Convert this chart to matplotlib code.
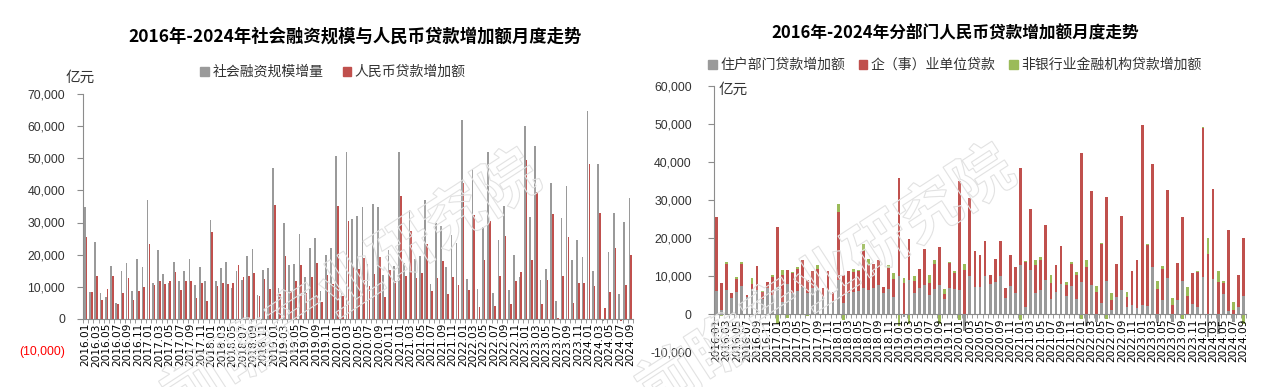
import numpy as np
import matplotlib
matplotlib.use('Agg')
import matplotlib.pyplot as plt
from matplotlib.patches import Patch, PathPatch
from matplotlib.textpath import TextPath
from matplotlib.font_manager import FontProperties
from matplotlib.transforms import Affine2D

plt.rcParams['font.family'] = ['Noto Sans CJK SC', 'DejaVu Sans']

W, H = 1277, 387

# months 2016.01 - 2024.09
months = [f"{y}.{m:02d}" for y in range(2016, 2025) for m in range(1, 13)][:105]

# left chart (亿元)
tsf = [34900, 8300, 24000, 8000, 6800, 16500, 4900, 14800, 17300, 8800, 18500, 16300,
       37000, 11100, 21300, 14000, 11100, 17800, 11900, 15000, 18500, 10500, 16100, 11700,
       30700, 11800, 15800, 17800, 9700, 15000, 12100, 19500, 21700, 7300, 15300, 15800,
       46900, 9700, 29700, 16700, 17200, 26300, 13000, 22000, 25100, 8700, 20000, 22000,
       50600, 8700, 52100, 31000, 32000, 34800, 17000, 35800, 34800, 13800, 21500, 16400,
       52000, 17300, 33900, 18600, 19500, 37000, 10800, 30000, 29000, 16100, 26100, 23500,
       61900, 12300, 46700, 9200, 28500, 52100, 8000, 24600, 35200, 9100, 19900, 13100,
       59900, 31700, 53900, 12100, 15600, 42300, 5500, 31500, 41300, 18400, 24600, 19300,
       64600, 15000, 48300, -700, 20800, 33100, 7800, 30300, 37700]
loans = [25500, 8300, 13400, 5800, 9300, 13400, 4600, 8100, 12800, 5900, 8700, 10000,
         23200, 10500, 11700, 10900, 11900, 14500, 9100, 11700, 11700, 6500, 11300, 5700,
         26900, 10200, 11300, 11000, 11300, 16700, 13000, 13300, 14400, 7100, 12400, 9300,
         35600, 7700, 19500, 8700, 11700, 16700, 8100, 13000, 17500, 5300, 13600, 10800,
         35100, 7200, 30500, 16100, 15500, 18900, 10200, 14100, 19200, 6700, 15300, 11700,
         38200, 13300, 27400, 12800, 14400, 23300, 8600, 12700, 17900, 7700, 13000, 10500,
         42200, 9000, 32200, 3700, 18400, 30500, 4000, 13400, 25800, 4700, 11700, 14500,
         49500, 18200, 39500, 4700, 12200, 32700, 400, 13400, 25500, 5000, 11100, 11100,
         48300, 10100, 33100, 3300, 8300, 22200, -600, 10600, 19900]

# right chart (亿元)
household = [6000, 1000, 6300, 4200, 5800, 7300, 4600, 6500, 6300, 4000, 6800, 5000,
             7200, 3100, 7800, 5500, 6000, 7200, 5500, 6800, 7000, 4600, 6300, 3400,
             9000, 2900, 5500, 5700, 6000, 7000, 6300, 6900, 7700, 5500, 6500, 4600,
             9900, -800, 9100, 5500, 6800, 7700, 5000, 6500, 7700, 3900, 6800, 6500,
             6300, -4300, 9900, 7100, 7200, 9900, 7800, 8400, 9900, 4300, 7500, 5600,
             12900, 1800, 11600, 5600, 6400, 9000, 4000, 5900, 8000, 4800, 7400, 3900,
             8400, -3000, 7700, -2000, 2900, 8600, 1200, 4600, 6400, 1800, 2500, 1700,
             2500, 2200, 12500, -2400, 3800, 9500, -2000, 3800, 8600, -300, 2700, 2000,
             9700, -5900, 9300, -5200, 5300, 900, -2100, 1800, 4900]
corporate = [19400, 7200, 6900, 1300, 3400, 5900, 400, 1400, 6400, 1900, 1700, 4800,
             15800, 7100, 3900, 5200, 5800, 7000, 3600, 4600, 4800, 2200, 5100, 2400,
             17800, 7300, 5800, 5400, 5300, 9600, 6600, 6200, 6600, 1700, 5600, 4600,
             25800, 8300, 10700, 3200, 5000, 9300, 3100, 6700, 9800, 1400, 6500, 4200,
             28700, 11500, 20500, 9500, 8400, 9300, 2400, 6000, 9300, 2500, 8100, 6700,
             25500, 11800, 16100, 7400, 7900, 14300, 4300, 6900, 9800, 2900, 5800, 6500,
             33900, 12400, 24700, 5900, 15400, 22100, 2600, 8600, 19300, 2700, 8900, 12600,
             47200, 16000, 27000, 6500, 8100, 23200, 2300, 9500, 17000, 4900, 8200, 9000,
             39100, 15700, 23600, 8400, 2800, 21200, 1000, 8600, 15100]
nonbank = [0, -600, 400, 0, 500, 600, 0, 1600, 0, 300, 0, 500,
           -2500, 1300, -1000, 400, 600, 0, -600, 0, 1000, 0, 0, 0,
           2000, -1500, 0, 700, 300, 1900, 1500, 0, 0, 0, 700, 1600,
           -3200, 1200, -2500, 1400, 0, 0, 2300, 1000, -2500, 1200, 400, 600,
           -1500, 1700, 0, 0, 0, 0, 0, 0, 0, 0, 0, 100,
           -1500, 300, 0, 1300, 800, 0, 1900, 0, 0, 700, 400, 600,
           -1300, 1800, 0, 1400, 400, -1200, 1700, 0, 0, 1200, 0, 0,
           0, 200, 0, 2300, 800, 0, 2000, 0, -1300, 2200, 0, 300,
           300, 4200, 0, 2800, 700, 0, 2200, 0, -2500]

GREY = '#9a9a9a'
RED = '#c0504d'
GREEN = '#9bbb59'
AXC = '#8c8c8c'
TXT = '#333333'

fig = plt.figure(figsize=(W / 100, H / 100), dpi=100)
x = np.arange(len(months))


def style_axis(ax, ymin, ymax, ylabels, pad):
    ax.set_xlim(-0.5, len(months) - 0.5)
    ax.set_ylim(ymin, ymax)
    for s in ['top', 'right']:
        ax.spines[s].set_visible(False)
    ax.spines['bottom'].set_position(('data', 0))
    ax.spines['bottom'].set_color(AXC)
    ax.spines['left'].set_color(AXC)
    ax.set_yticks(range(ymin, ymax + 1, 10000))
    ax.set_yticklabels(ylabels, fontsize=8.8, color=TXT, family='Liberation Sans')
    ax.tick_params(axis='y', length=4, color=AXC, pad=pad)
    ax.set_xticks(x[::2])
    ax.set_xticklabels(months[::2], rotation=90, fontsize=7.6, family='DejaVu Sans',
                       va='top', ha='center')
    ax.set_xticks(np.arange(-0.5, len(months), 1), minor=True)
    ax.tick_params(axis='x', which='major', length=0, pad=3, colors='black')
    ax.tick_params(axis='x', which='minor', length=3, color=AXC, direction='out')
    ax.set_facecolor('none')


# ---- left chart
ax1 = fig.add_axes([83 / W, 1 - 351 / H, 550 / W, 257 / H])
ax1.bar(x - 0.17, tsf, width=0.32, color=GREY, linewidth=0)
ax1.bar(x + 0.17, loans, width=0.32, color=RED, linewidth=0)
lab1 = [f"{v:,}" if v >= 0 else f"({-v:,})" for v in range(-10000, 70001, 10000)]
style_axis(ax1, -10000, 70000, lab1, 9)
ax1.spines['left'].set_bounds(0, 70000)
ax1.get_yticklabels()[0].set_color('#ff0000')
ax1.yaxis.get_major_ticks()[0].tick1line.set_visible(False)

fig.text(355 / W, 1 - 37 / H, '2016年-2024年社会融资规模与人民币贷款增加额月度走势',
         ha='center', va='center', fontsize=12.5, fontweight='bold')
fig.text(80 / W, 1 - 78 / H, '亿元', ha='center', va='center', fontsize=10.5, color=TXT)
fig.legend(handles=[Patch(color=GREY, label='社会融资规模增量'),
                    Patch(color=RED, label='人民币贷款增加额')],
           loc='center', bbox_to_anchor=(333 / W, 1 - 72 / H), ncol=2, frameon=False,
           fontsize=10, handlelength=0.6, handleheight=0.6, handletextpad=0.25,
           columnspacing=1.4, labelcolor=TXT)

# ---- right chart
ax2 = fig.add_axes([714 / W, 1 - 352.3 / H, 532 / W, 266.8 / H])
pos_base = np.zeros(len(months))
neg_base = np.zeros(len(months))
for vals, col in [(household, GREY), (corporate, RED), (nonbank, GREEN)]:
    v = np.array(vals, dtype=float)
    bottom = np.where(v >= 0, pos_base, neg_base)
    ax2.bar(x, v, bottom=bottom, width=0.55, color=col, linewidth=0)
    pos_base += np.clip(v, 0, None)
    neg_base += np.clip(v, None, 0)
lab2 = [f"{v:,}" for v in range(-10000, 60001, 10000)]
style_axis(ax2, -10000, 60000, lab2, 12)

fig.text(955 / W, 1 - 33 / H, '2016年-2024年分部门人民币贷款增加额月度走势',
         ha='center', va='center', fontsize=12, fontweight='bold')
fig.text(733 / W, 1 - 90 / H, '亿元', ha='center', va='center', fontsize=10.5, color=TXT)
fig.legend(handles=[Patch(color=GREY, label='住户部门贷款增加额'),
                    Patch(color=RED, label='企（事）业单位贷款'),
                    Patch(color=GREEN, label='非银行业金融机构贷款增加额')],
           loc='center', bbox_to_anchor=(955 / W, 1 - 65 / H), ncol=3, frameon=False,
           fontsize=10, handlelength=0.6, handleheight=0.6, handletextpad=0.25,
           columnspacing=1.0, labelcolor=TXT)

# ---- faint watermark
fp = FontProperties(family='Noto Sans CJK SC', weight='bold')
wm = '前瞻产业研究院'
size = 62
tp = TextPath((0, 0), wm, size=size, prop=fp)
ang = 33
for cx, cy in [(505, 180), (980, 175)]:
    local_end = np.array([len(wm) * size - size / 2, size * 0.38])
    r = np.deg2rad(ang)
    rot = np.array([[np.cos(r), -np.sin(r)], [np.sin(r), np.cos(r)]]) @ local_end
    tx, ty = cx - rot[0], (H - cy) - rot[1]
    tr = Affine2D().rotate_deg(ang).translate(tx, ty)
    fig.add_artist(PathPatch(tp, transform=tr, facecolor=(1, 1, 1, 0.12),
                             edgecolor='#e2e2e2', linewidth=0.8, zorder=5))

fig.savefig('out.png', dpi=100)
